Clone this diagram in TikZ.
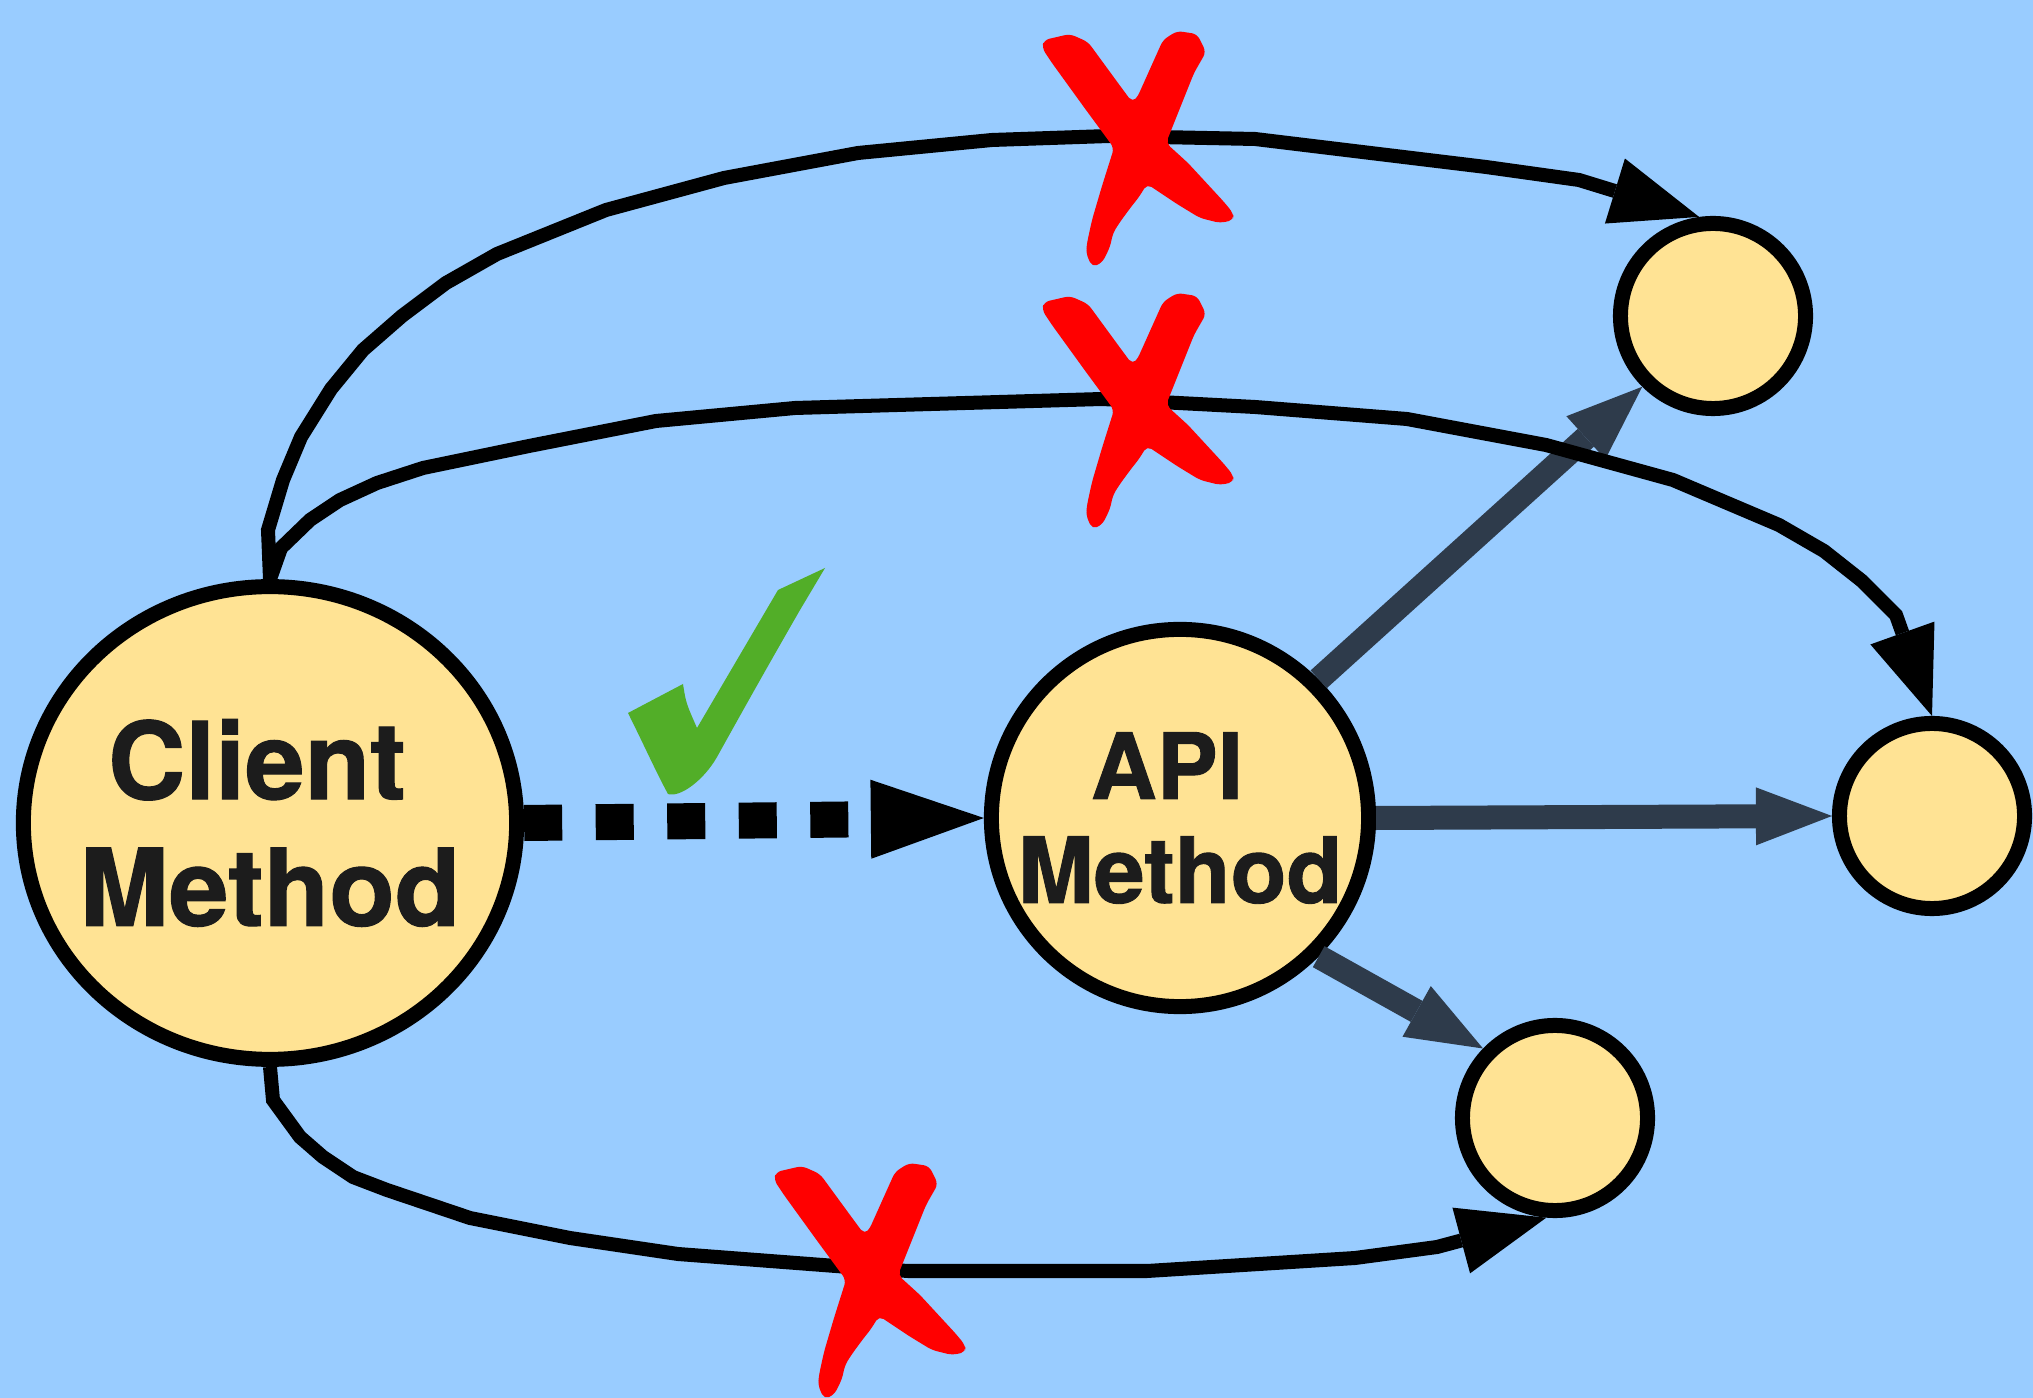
\documentclass[tikz,border=0pt]{standalone}
\usepackage{fontspec}
\setmainfont[BoldFeatures={FakeBold=1}]{TeX Gyre Heros}
\usepackage{tikz}
\usetikzlibrary{arrows.meta, shapes.geometric}
\definecolor{sky}{RGB}{153,204,255}
\definecolor{cream}{RGB}{255,227,148}
\definecolor{slate}{RGB}{46,59,75}
\definecolor{ink}{RGB}{28,28,28}
\definecolor{xred}{RGB}{255,0,0}
\definecolor{okgreen}{RGB}{82,174,40}
\newcommand{\redx}[2]{
	\fill[xred,shift={(#1,#2)},rounded corners=1.5pt](-96,-103)--(-70,-109)--(-52,-101)--(-22,-60)--(-8,-41)--(-3,-45)--(23,-103)--(37,-112)--(57,-109)--(66,-91)--(54,-70)--(26,0)--(48,20)--(84,59)--(93,70)--(94,77)--(80,80)--(60,75)--(37,61)--(7,41)--(-1,54)--(-9,64)--(-20,79)--(-27,90)--(-30,104)--(-38,120)--(-48,124)--(-54,110)--(-53,100)--(-48,77)--(-38,43)--(-26,5)--(-54,-33)--(-88,-80)--(-98,-95)--cycle
}

\begin{document}
\begin{tikzpicture}[x=0.01cm,y=-0.01cm,
		method/.style={draw=black,fill=cream,line width=0.15cm,inner sep=0pt,text=ink},
		leaf/.style={method,circle,minimum size=1.85cm},
		call/.style={line width=0.14cm,-{Triangle[length=0.88cm,width=0.68cm,line width=0pt]}},
		flow/.style={draw=slate,line width=0.24cm,-{Triangle[length=0.76cm,width=0.58cm,line width=0pt]}},
		wish/.style={line width=0.36cm,dash pattern=on 0.38cm off 0.335cm,-{Triangle[length=1.13cm,width=0.79cm,line width=0pt]}}]
		\fill[sky](0,0)rectangle(2033,1398);
		\useasboundingbox(0,0)rectangle(2033,1398);
		\node[method,ellipse,minimum width=4.93cm,minimum height=4.725cm](client)at(270,823){};
		\node[text=ink,align=center,font=\fontsize{30.5}{36}\selectfont\bfseries](clientname)at(client){Client\kern.26cm\\Method};
		\node[method,circle,minimum size=3.77cm,align=center,font=\fontsize{26}{29.6}\selectfont\bfseries](api)at(1180,818){API\kern.26cm\\Method};
		\node[leaf](tr)at(1713,316){};
		\node[leaf](rc)at(1932,816){};
		\node[leaf](bc)at(1555,1118){};
		\draw[flow](api.45)--(tr.225);
		\draw[flow](api.east)--(rc.west);
		\draw[flow](api.-45)--(bc.136);
		\draw[call](client.north)--(268,530)--(283,480)--(301,437)--(331,389)--(363,350)--(402,316)--(446,283)--(497,254)--(606,210)--(724,178)--(858,153)--(992,140)--(1109,136)--(1255,139)--(1486,167)--(1579,180)--(tr.98);
		\draw[call](client.north)--(281,548)--(310,520)--(340,500)--(377,483)--(423,468)--(529,446)--(656,421)--(795,408)--(1102,399)--(1255,407)--(1407,419)--(1546,445)--(1673,480)--(1779,525)--(1824,551)--(1862,581)--(1896,615)--(rc.north);
		\draw[call](client.south)--(273,1100)--(300,1137)--(323,1157)--(353,1177)--(387,1190)--(470,1218)--(570,1238)--(678,1254)--(849,1267)--(908,1271)--(1147,1271)--(1355,1258)--(1437,1247)--(bc.265);
		\draw[wish](client.east)--(api.west);
		\redx{1140}{143};
		\redx{1140}{405};
		\redx{872}{1275};
		\fill[okgreen](628,713)--(683,684)..controls(686,703)..(697,728)--(778,590)--(825,568)--(800,610)..controls(770,662)and(742,712)..(717,757)..controls(704,780)and(680,798)..(668,794)..controls(656,772)and(644,745)..(628,713)--cycle;
	\end{tikzpicture}
\end{document}
